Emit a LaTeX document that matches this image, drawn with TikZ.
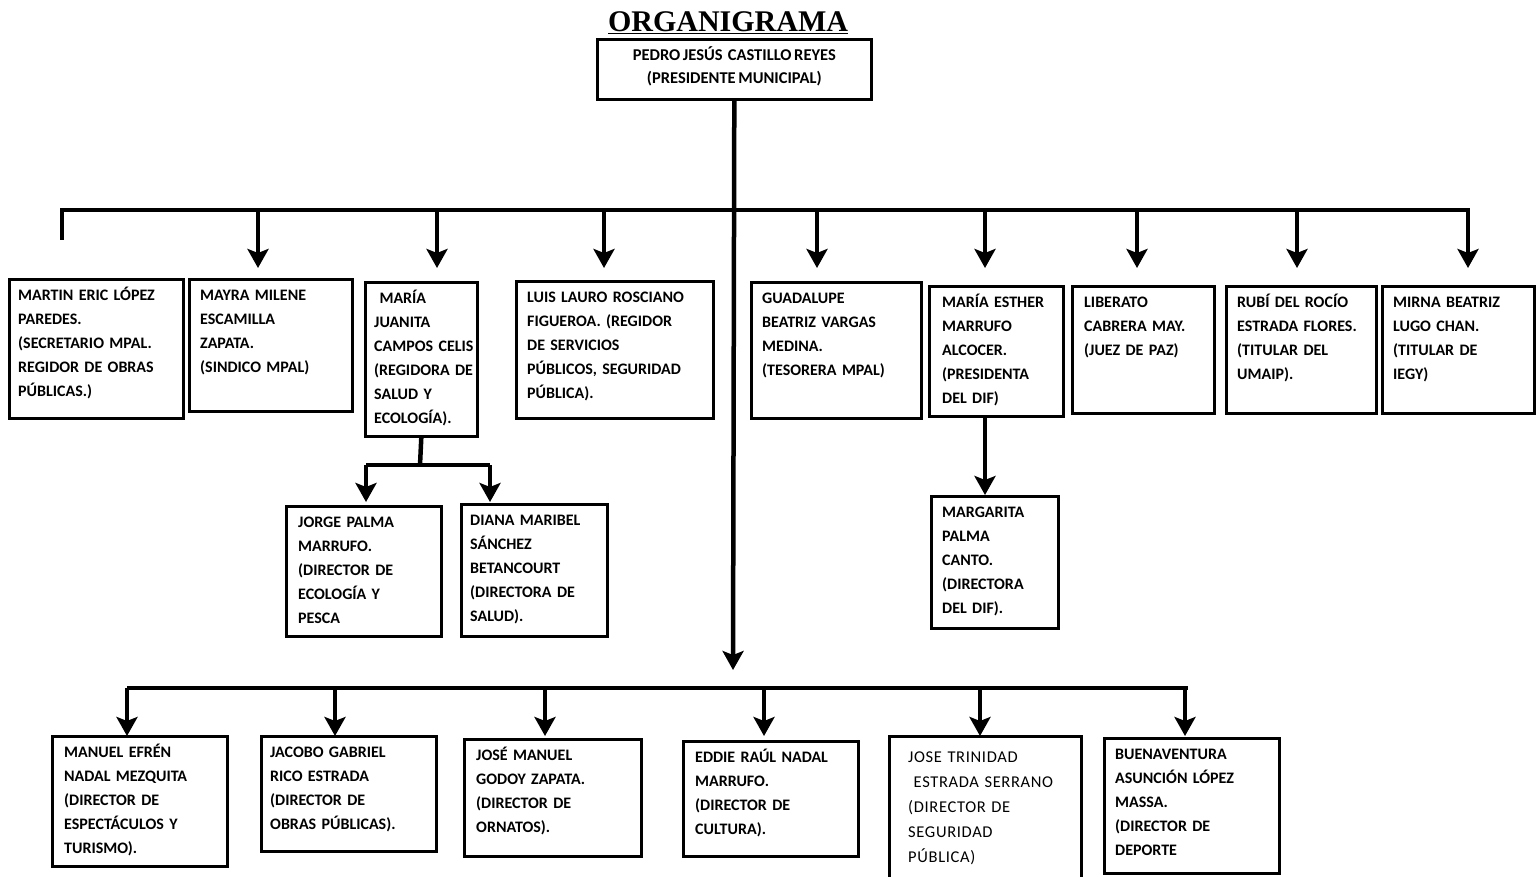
\documentclass[tikz,border=0pt]{standalone}
\usepackage{fontspec}
\setmainfont{Carlito}
\newfontfamily\boxfont{Carlito}[WordSpace=0.7]
\newfontfamily\lightfont{Carlito}[LetterSpace=4]
\newfontfamily\titlefont{Liberation Serif}
\usetikzlibrary{arrows.meta}
\newcommand\orgbox[7][12]{%
  \node[box, minimum width={#5-#3}, minimum height={#6-#4}] (#2) at (#3,#4) {};
  \node[txt] at ([xshift=#1pt,yshift=-22pt]#2.north west) {#7};}
\begin{document}
\begin{tikzpicture}[x=1pt,y=-1pt,
  box/.style={draw, line width=2.6pt, rectangle, inner sep=0pt, anchor=north west, fill=white},
  txt/.style={anchor=base west, align=left, text width=220pt, inner sep=0pt,
    font=\boxfont\bfseries\fontsize{16}{24}\selectfont},
  bus/.style={line width=4.5pt},
  arr/.style={line width=4.5pt, -{Stealth[length=19pt,width=21pt,inset=4pt]}}]
\useasboundingbox[fill=white] (0,0) rectangle (1538,877);

% title
\node[font=\titlefont\bfseries\fontsize{30}{32}\selectfont, anchor=base, inner sep=0pt] (title) at (728,32) {\underline{ORGANIGRAMA}};

% president
\node[box, minimum width=274, minimum height=60] (pres) at (596,38) {};
\node[anchor=center, align=center, inner sep=0pt, font=\boxfont\bfseries\fontsize{16.5}{23}\selectfont] (prestxt) at ([yshift=3pt]pres.center) {PEDRO JESÚS\ \ CASTILLO REYES\\(PRESIDENTE MUNICIPAL)};

% row 1
\orgbox[10]{b1}{8}{278}{182}{417}{MARTIN ERIC LÓPEZ\\PAREDES.\\(SECRETARIO MPAL.\\REGIDOR DE OBRAS\\PÚBLICAS.)}
\orgbox{b2}{188}{278}{351}{410}{MAYRA MILENE\\ESCAMILLA\\ZAPATA.\\(SINDICO MPAL)}
\orgbox[10]{b3}{364}{281}{476}{435}{\ MARÍA\\JUANITA\\CAMPOS CELIS\\(REGIDORA DE\\SALUD Y\\ECOLOGÍA).}
\orgbox{b4}{515}{280}{712}{417}{LUIS LAURO ROSCIANO\\FIGUEROA. (REGIDOR\\DE SERVICIOS\\PÚBLICOS, SEGURIDAD\\PÚBLICA).}
\orgbox{b5}{750}{281}{920}{417}{GUADALUPE\\BEATRIZ VARGAS\\MEDINA.\\(TESORERA MPAL)}
\orgbox[14]{b6}{928}{285}{1062}{415}{MARÍA ESTHER\\MARRUFO\\ALCOCER.\\(PRESIDENTA\\DEL DIF)}
\orgbox[13]{b7}{1071}{285}{1213}{412}{LIBERATO\\CABRERA MAY.\\(JUEZ DE PAZ)}
\orgbox{b8}{1225}{285}{1375}{412}{RUBÍ DEL ROCÍO\\ESTRADA FLORES.\\(TITULAR DEL\\UMAIP).}
\orgbox{b9}{1381}{285}{1533}{412}{MIRNA BEATRIZ\\LUGO CHAN.\\(TITULAR DE\\IEGY)}

% sub-rows
\orgbox[13]{c1}{285}{505}{440}{635}{JORGE PALMA\\MARRUFO.\\(DIRECTOR DE\\ECOLOGÍA Y\\PESCA}
\orgbox[10]{c2}{460}{503}{606}{635}{DIANA MARIBEL\\SÁNCHEZ\\BETANCOURT\\(DIRECTORA DE\\SALUD).}
\orgbox{c3}{930}{495}{1057}{627}{MARGARITA\\PALMA\\CANTO.\\(DIRECTORA\\DEL DIF).}

% bottom row
\orgbox[13]{d1}{51}{735}{226}{865}{MANUEL EFRÉN\\NADAL MEZQUITA\\(DIRECTOR DE\\ESPECTÁCULOS Y\\TURISMO).}
\orgbox[10]{d2}{260}{735}{435}{850}{JACOBO GABRIEL\\RICO ESTRADA\\(DIRECTOR DE\\OBRAS PÚBLICAS).}
\orgbox[13]{d3}{463}{738}{640}{855}{JOSÉ MANUEL\\GODOY ZAPATA.\\(DIRECTOR DE\\ORNATOS).}
\orgbox[13]{d4}{682}{740}{857}{855}{EDDIE RAÚL NADAL\\MARRUFO.\\(DIRECTOR DE\\CULTURA).}
\node[box, minimum width=192, minimum height=150] (d5) at (888,735) {};
\node[txt, font=\lightfont\fontsize{16.5}{25}\selectfont] at ([xshift=20pt,yshift=-27pt]d5.north west) {JOSE TRINIDAD\\\ ESTRADA SERRANO\\(DIRECTOR DE\\SEGURIDAD\\PÚBLICA)};
\orgbox{d6}{1103}{737}{1278}{872}{BUENAVENTURA\\ASUNCIÓN LÓPEZ\\MASSA.\\(DIRECTOR DE\\DEPORTE}

% connectors: trunk and first bus
\coordinate (L1) at (62,210);
\coordinate (R1) at (1470,210);
\coordinate (Lend) at (62,240);
\coordinate (mid) at (733,670);
\draw[bus] (Lend) -- (L1) -- (R1);
\draw[arr] (pres.south) -- (mid);
\foreach \x/\n in {258/a2,437/a3,604/a4,817/a5,985/a6,1137/a7,1297/a8,1468/a9}{
  \coordinate (\n) at (\x,210);
  \draw[arr] (\n) -- ++(0,58);
}

% Juanita's branch
\coordinate (j1) at (420,465);
\coordinate (jl) at (366,465);
\coordinate (jr) at (490,465);
\draw[bus] (b3.south) -- (j1);
\draw[bus] (jl) -- (jr);
\draw[arr] (jl) -- ++(0,37);
\draw[arr] (jr) -- ++(0,37);

% Esther's branch
\coordinate (e1) at (985,415);
\draw[arr] (e1) -- ++(0,80);

% bottom bus
\coordinate (L2) at (127,688);
\coordinate (R2) at (1188,688);
\draw[bus] (L2) -- (R2);
\foreach \x/\n in {127/g1,335/g2,545/g3,764/g4,980/g5,1185/g6}{
  \coordinate (\n) at (\x,688);
  \draw[arr] (\n) -- ++(0,48);
}
\end{tikzpicture}
\end{document}
